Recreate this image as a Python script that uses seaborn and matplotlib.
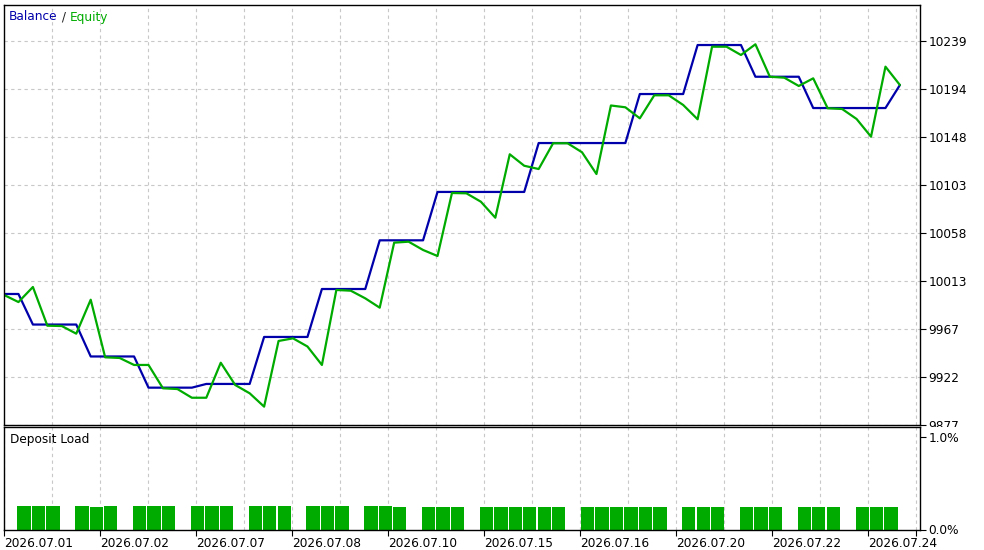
import numpy as np
import matplotlib
matplotlib.use("Agg")
import matplotlib.pyplot as plt
import seaborn as sns
from matplotlib.transforms import Bbox, TransformedBbox

balance = [10000.5, 10000.5, 9971.7, 9971.7, 9971.7, 9971.7, 9941.6, 9941.6, 9941.6, 9941.6,
           9912.2, 9912.2, 9912.2, 9912.2, 9915.7, 9915.7, 9915.7, 9915.7, 9960.0, 9960.0,
           9960.0, 9960.0, 10005.2, 10005.2, 10005.2, 10005.2, 10051.1, 10051.1, 10051.1, 10051.1,
           10096.7, 10096.7, 10096.7, 10096.7, 10096.7, 10096.7, 10096.7,
           10142.8, 10142.8, 10142.8, 10142.8, 10142.8, 10142.8, 10142.8,
           10189.0, 10189.0, 10189.0, 10189.0, 10235.2, 10235.2, 10235.2, 10235.2,
           10205.3, 10205.3, 10205.3, 10205.3, 10175.8, 10175.8, 10175.8, 10175.8, 10175.8, 10175.8,
           10197.5]
equity = [9999.6, 9992.9, 10007.1, 9970.6, 9970.3, 9963.1, 9995.1, 9940.8, 9940.2, 9933.6,
          9933.6, 9911.6, 9910.9, 9902.7, 9902.7, 9935.7, 9914.7, 9906.9, 9894.3, 9956.2,
          9958.7, 9951.0, 9933.6, 10004.3, 10003.6, 9996.4, 9987.6, 10048.9, 10049.8, 10042.0,
          10036.3, 10095.7, 10095.4, 10087.5, 10072.4, 10132.2, 10121.4, 10118.3, 10142.6, 10142.6,
          10134.1, 10113.6, 10178.2, 10176.5, 10166.1, 10187.8, 10187.8, 10178.7, 10165.2, 10233.6,
          10233.6, 10225.8, 10235.9, 10205.3, 10204.4, 10196.6, 10203.8, 10175.6, 10174.9, 10165.5,
          10148.8, 10214.8, 10197.5]
deal_index = list(range(len(balance)))

load_slots = [1, 2, 3, 5, 6, 7, 9, 10, 11, 13, 14, 15, 17, 18, 19, 21, 22, 23,
              25, 26, 27, 29, 30, 31, 33, 34, 35, 36, 37, 38, 40, 41, 42, 43, 44, 45,
              47, 48, 49, 51, 52, 53, 55, 56, 57, 59, 60, 61]
deposit_load = [0.25, 0.25, 0.25, 0.25, 0.24, 0.25, 0.25, 0.25, 0.25, 0.25, 0.25, 0.25,
                0.25, 0.25, 0.25, 0.25, 0.25, 0.25, 0.25, 0.25, 0.24, 0.24, 0.24, 0.24,
                0.24, 0.24, 0.24, 0.24, 0.24, 0.24, 0.24, 0.24, 0.24, 0.24, 0.24, 0.24,
                0.24, 0.24, 0.24, 0.24, 0.24, 0.24, 0.24, 0.24, 0.24, 0.24, 0.24, 0.24]

y_tick_labels = ["9877", "9922", "9967", "10013", "10058", "10103", "10148", "10194", "10239"]
date_labels = ["2026.07.01", "2026.07.02", "2026.07.07", "2026.07.08", "2026.07.10",
               "2026.07.15", "2026.07.16", "2026.07.20", "2026.07.22", "2026.07.24"]

# --- style ---
sns.set_style("white")
plt.rcParams["font.family"] = ["DejaVu Sans"]
FS = 8.7
BLUE = "#0000aa"
GREEN = "#00ab00"
GRID = dict(color="#c8c8c8", linestyle=(0, (3, 3)), linewidth=0.8)

fig = plt.figure(figsize=(9.84, 5.5), dpi=100)
ax = fig.add_axes([3.5 / 984, 1 - 425 / 550, 916.5 / 984, 420.5 / 550])
ax2 = fig.add_axes([3.5 / 984, 1 - 529.5 / 550, 916.5 / 984, 102.5 / 550])

xlim = (-0.035, 63.39)
grid_step = 48 / 14.45
grid_pos = np.arange(1, 20) * grid_step

# === balance / equity ===
sns.lineplot(x=deal_index, y=balance, color=BLUE, lw=1.6, estimator=None, sort=False, ax=ax)
sns.lineplot(x=deal_index, y=equity, color=GREEN, lw=1.6, estimator=None, sort=False, ax=ax)

y_ticks = np.linspace(9877, 10239, 9)
ax.set_xlim(*xlim)
ax.set_ylim(9877, 10273.4)
ax.set_yticks(y_ticks)
ax.set_yticklabels(y_tick_labels)
ax.set_xticks(grid_pos)
ax.grid(True, **GRID)
ax.tick_params(axis="y", left=False, right=True, labelleft=False, labelright=True,
               length=4, width=0.8, pad=2, labelsize=FS, colors="black")
ax.tick_params(axis="x", bottom=False, labelbottom=False, length=0)
for s in ax.spines.values():
    s.set_color("black")
    s.set_linewidth(1)

# bottom label half hidden under the lower panel
clip = TransformedBbox(Bbox([[0, 1 - 427 / 550], [1, 1]]), fig.transFigure)
lab0 = ax.yaxis.get_major_ticks()[0].label2
lab0.set_clip_on(True)
lab0.set_clip_box(clip)

# === deposit load ===
bar_x = [s + 0.39 for s in load_slots]
sns.barplot(x=bar_x, y=deposit_load, native_scale=True, width=0.92, color=GREEN,
            saturation=1, errorbar=None, linewidth=0, ax=ax2)
ax2.set_xlim(*xlim)
ax2.set_ylim(0, 1.108)
ax2.set_yticks([0, 1.0])
ax2.set_yticklabels(["0.0%", "1.0%"])
date_pos = list(np.arange(0, 20, 2) * grid_step) + [19 * grid_step]
ax2.set_xticks(date_pos)
ax2.set_xticklabels(date_labels + [""])
ax2.set_xticks(grid_pos, minor=True)
ax2.xaxis.grid(True, which="both", **GRID)
ax2.yaxis.grid(False)
ax2.tick_params(axis="x", which="major", bottom=True, length=4, width=0.8, pad=1.5,
                labelsize=FS, colors="black")
ax2.tick_params(axis="x", which="minor", length=0)
ax2.tick_params(axis="y", left=False, right=True, labelleft=False, labelright=True,
                length=4, width=0.8, pad=2, labelsize=FS, colors="black")
for t in ax2.get_xticklabels():
    t.set_horizontalalignment("left")
ax2.set_xlabel("")
ax2.set_ylabel("")
for s in ax2.spines.values():
    s.set_color("black")
    s.set_linewidth(1)

ax2.text(10 / 984, 1 - 440 / 550, "Deposit Load", transform=fig.transFigure,
         fontsize=FS, va="center", ha="left", color="black")

# === "Balance / Equity" header ===
fig.canvas.draw()
r = fig.canvas.get_renderer()
x0 = 9
for txt, col in [("Balance", BLUE), (" / ", "#222222"), ("Equity", GREEN)]:
    t = fig.text(x0 / 984, 1 - 17 / 550, txt, fontsize=FS, color=col, va="center", ha="left")
    x0 += t.get_window_extent(r).width

fig.savefig("out.png", dpi=100)
